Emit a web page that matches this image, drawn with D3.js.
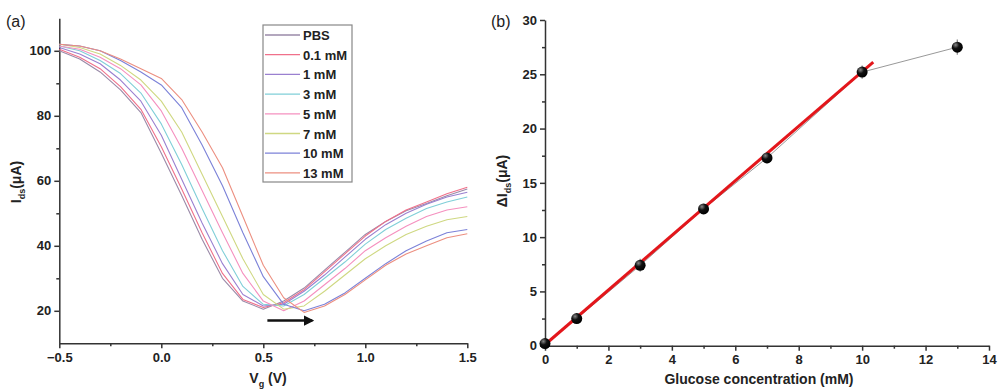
<!DOCTYPE html>
<html>
<head>
<meta charset="utf-8">
<script src="https://cdn.jsdelivr.net/npm/d3@7"></script>
<style>
  body { margin: 0; background: #fff; }
  svg { display: block; font-family: "Liberation Sans", Arial, sans-serif; }
  .axis path, .axis line { stroke: #333; stroke-width: 1.5px; }
  .axis text { font-size: 13px; font-weight: bold; fill: #222; }
  .title { font-size: 14px; font-weight: bold; fill: #222; }
  .panel { font-size: 16px; fill: #222; }
</style>
</head>
<body>
<svg id="chart" width="998" height="392"></svg>
<script>
// ---- panel (a) data: transfer curves, Ids vs Vg ----
var vg = [-0.5,-0.4,-0.3,-0.2,-0.1,0.0,0.1,0.2,0.3,0.4,0.5,0.6,0.7,0.8,0.9,1.0,1.1,1.2,1.3,1.4,1.5];
var seriesNames = ["PBS","0.1 mM","1 mM","3 mM","5 mM","7 mM","10 mM","13 mM"];
var seriesColors = ["#9a8aa8","#f0708a","#9a80d0","#80cfd8","#f590bf","#cfd882","#7c82d8","#ec8f80"];
var idsPBS  = [100,97.5,93.5,88,81,68.5,55.5,42,30,23,20.5,23,27,32.5,38,43.5,47.5,50.8,53,55.4,57.5];
var ids01   = [100.5,98,94.5,89,82,70.5,57.5,44,31.5,23.5,21,22.5,26.5,32,37.5,43,47.5,51,53.5,56,58];
var ids1    = [101,99,96,91,84.5,74,60.5,47,34.5,25,21.5,22,26,31,36.5,42,46.5,50,52.8,55,56.5];
var ids3    = [101.5,100,97,93,87,77.5,65,51.5,38.5,27.5,22,21.5,25,30,35,40.5,45,48.5,51.5,53.5,55];
var ids5    = [101.5,100.5,98,94.5,89.5,81.5,70,57,44,31.5,23,20,23,28,33,38.5,42.5,46,49,51,52];
var ids7    = [102,101,99,95.5,91,84.5,75,62,49,36,25,20.5,21.5,26,31,36,40,43.5,46,48,49];
var ids10   = [102,101.5,100,97,93.5,89.5,82.5,71,58.5,44,30.5,22,20,22,25.5,30,34.5,38.5,41.5,44,45];
var ids13   = [102,101.5,100,97.5,94.5,91.5,85,75,64,49,34,24,19.5,21.5,25,29.5,34,37.5,40,42.5,43.7];
var idsAll  = [idsPBS, ids01, ids1, ids3, ids5, ids7, ids10, ids13];
var aXTicks = [-0.5,0,0.5,1,1.5];
var aXMinor = [-0.25,0.25,0.75,1.25];
var aYTicks = [20,40,60,80,100];
var aYMinor = [30,50,70,90];
var shiftArrow = [[0.52,17],[0.74,17]];

// ---- panel (b) data: response vs glucose ----
var glucose = [0,1,3,5,7,10,13];
var deltaIds = [0.2,2.5,7.4,12.6,17.3,25.2,27.5];
var deltaErr = [0.3,0.5,0.6,0.4,0.5,0.6,0.7];
var fitSlope = 2.515, fitIntercept = 0.1, fitRange = [0.05,10.35];
var bXTicks = [0,2,4,6,8,10,12,14];
var bXMinor = [1,3,5,7,9,11,13];
var bYTicks = [0,5,10,15,20,25,30];
var bYMinor = [2.5,7.5,12.5,17.5,22.5,27.5];

var svg = d3.select("#chart");

// arrow marker
svg.append("defs").append("marker")
	.attr("id","head").attr("viewBox","0 0 10 10")
	.attr("refX",8).attr("refY",5)
	.attr("markerWidth",4).attr("markerHeight",4)
	.attr("orient","auto")
	.append("path").attr("d","M0,0 L10,5 L0,10 z").attr("fill","#111");

// ================= panel (a) =================
var xa = d3.scaleLinear().domain([-0.5,1.5]).range([59.3,467.3]);
var ya = d3.scaleLinear().domain([10,110]).range([343.3,18.3]);

var ga = svg.append("g");

ga.append("g").attr("class","axis")
	.attr("transform","translate(0,"+ya(10)+")")
	.call(d3.axisBottom(xa).tickValues(aXTicks).tickSize(5).tickSizeOuter(0).tickPadding(4)
		.tickFormat(d3.format(".1f")));
ga.append("g").attr("class","axis")
	.attr("transform","translate(0,"+ya(10)+")")
	.call(d3.axisBottom(xa).tickValues(aXMinor).tickSize(3).tickSizeOuter(0).tickFormat(""))
	.select("path").remove();
ga.append("g").attr("class","axis")
	.attr("transform","translate("+xa(-0.5)+",0)")
	.call(d3.axisLeft(ya).tickValues(aYTicks).tickSize(5).tickSizeOuter(0).tickPadding(3));
ga.append("g").attr("class","axis")
	.attr("transform","translate("+xa(-0.5)+",0)")
	.call(d3.axisLeft(ya).tickValues(aYMinor).tickSize(3).tickSizeOuter(0).tickFormat(""))
	.select("path").remove();

// curves
var lineA = d3.line()
	.x(function(d,i){ return xa(vg[i]); })
	.y(function(d){ return ya(d); });
ga.selectAll(".curve").data(idsAll).enter()
	.append("path").attr("class","curve")
	.attr("d", lineA)
	.attr("fill","none")
	.attr("stroke", function(d,i){ return seriesColors[i]; })
	.attr("stroke-width",1.1)
	.attr("stroke-linejoin","round");

// shift arrow
ga.append("line")
	.attr("x1", xa(shiftArrow[0][0])).attr("y1", ya(shiftArrow[0][1]))
	.attr("x2", xa(shiftArrow[1][0])).attr("y2", ya(shiftArrow[1][1]))
	.attr("stroke","#111").attr("stroke-width",2.6)
	.attr("marker-end","url(#head)");

// legend
var leg = ga.append("g").attr("transform","translate(263,25)");
leg.append("rect").attr("width",89).attr("height",157)
	.attr("fill","#fff").attr("stroke","#888").attr("stroke-width",1.2);
var rows = leg.selectAll(".row").data(seriesNames).enter()
	.append("g").attr("transform", function(d,i){ return "translate(0,"+(10+i*19.7)+")"; });
rows.append("line").attr("x1",2).attr("x2",37)
	.attr("stroke", function(d,i){ return seriesColors[i]; }).attr("stroke-width",1.3);
rows.append("text").attr("x",40).attr("y",5)
	.attr("font-size","13px").attr("font-weight","bold").attr("fill","#222")
	.text(function(d){ return d; });

// titles
var xt = ga.append("text").attr("class","title").attr("x",268).attr("y",383).attr("text-anchor","middle");
xt.append("tspan").text("V");
xt.append("tspan").attr("font-size","9px").attr("dy",4).text("g");
xt.append("tspan").attr("dy",-4).text(" (V)");
var yt = ga.append("text").attr("class","title")
	.attr("transform","translate(21,182) rotate(-90)").attr("text-anchor","middle");
yt.append("tspan").text("I");
yt.append("tspan").attr("font-size","9px").attr("dy",4).text("ds");
yt.append("tspan").attr("dy",-4).text("(μA)");
ga.append("text").attr("class","panel").attr("x",6).attr("y",27).text("(a)");

// ================= panel (b) =================
var xb = d3.scaleLinear().domain([0,14]).range([545,989]);
var yb = d3.scaleLinear().domain([0,30]).range([345.7,20]);

var gb = svg.append("g");

gb.append("g").attr("class","axis")
	.attr("transform","translate(0,"+yb(0)+")")
	.call(d3.axisBottom(xb).tickValues(bXTicks).tickSize(5).tickSizeOuter(0).tickPadding(4));
gb.append("g").attr("class","axis")
	.attr("transform","translate(0,"+yb(0)+")")
	.call(d3.axisBottom(xb).tickValues(bXMinor).tickSize(3).tickSizeOuter(0).tickFormat(""))
	.select("path").remove();
gb.append("g").attr("class","axis")
	.attr("transform","translate("+xb(0)+",0)")
	.call(d3.axisLeft(yb).tickValues(bYTicks).tickSize(5).tickSizeOuter(0).tickPadding(3));
gb.append("g").attr("class","axis")
	.attr("transform","translate("+xb(0)+",0)")
	.call(d3.axisLeft(yb).tickValues(bYMinor).tickSize(3).tickSizeOuter(0).tickFormat(""))
	.select("path").remove();

// connecting line
var pts = glucose.map(function(g,i){ return [g, deltaIds[i]]; });
gb.append("path").datum(pts)
	.attr("d", d3.line().x(function(d){ return xb(d[0]); }).y(function(d){ return yb(d[1]); }))
	.attr("fill","none").attr("stroke","#999").attr("stroke-width",1);

// error bars
gb.selectAll(".err").data(pts).enter()
	.append("line").attr("class","err")
	.attr("x1", function(d){ return xb(d[0]); }).attr("x2", function(d){ return xb(d[0]); })
	.attr("y1", function(d,i){ return yb(d[1]-deltaErr[i]); })
	.attr("y2", function(d,i){ return yb(d[1]+deltaErr[i]); })
	.attr("stroke","#888").attr("stroke-width",1.2);

// linear fit
gb.append("line")
	.attr("x1", xb(fitRange[0])).attr("y1", yb(fitIntercept+fitSlope*fitRange[0]))
	.attr("x2", xb(fitRange[1])).attr("y2", yb(fitIntercept+fitSlope*fitRange[1]))
	.attr("stroke","#e3161b").attr("stroke-width",3);

// points
var grad = svg.select("defs").append("radialGradient").attr("id","ball")
	.attr("cx","35%").attr("cy","30%").attr("r","70%");
grad.append("stop").attr("offset","0%").attr("stop-color","#888");
grad.append("stop").attr("offset","45%").attr("stop-color","#111");
grad.append("stop").attr("offset","100%").attr("stop-color","#000");
gb.selectAll(".pt").data(pts).enter()
	.append("circle").attr("class","pt")
	.attr("cx", function(d){ return xb(d[0]); })
	.attr("cy", function(d){ return yb(d[1]); })
	.attr("r",5.5)
	.attr("fill","url(#ball)");

// titles
gb.append("text").attr("class","title").attr("x",759).attr("y",384)
	.attr("text-anchor","middle").text("Glucose concentration (mM)");
var yt2 = gb.append("text").attr("class","title")
	.attr("transform","translate(507,181) rotate(-90)").attr("text-anchor","middle");
yt2.append("tspan").text("ΔI");
yt2.append("tspan").attr("font-size","9px").attr("dy",4).text("ds");
yt2.append("tspan").attr("dy",-4).text("(μA)");
gb.append("text").attr("class","panel").attr("x",491).attr("y",27).text("(b)");
</script>
</body>
</html>
